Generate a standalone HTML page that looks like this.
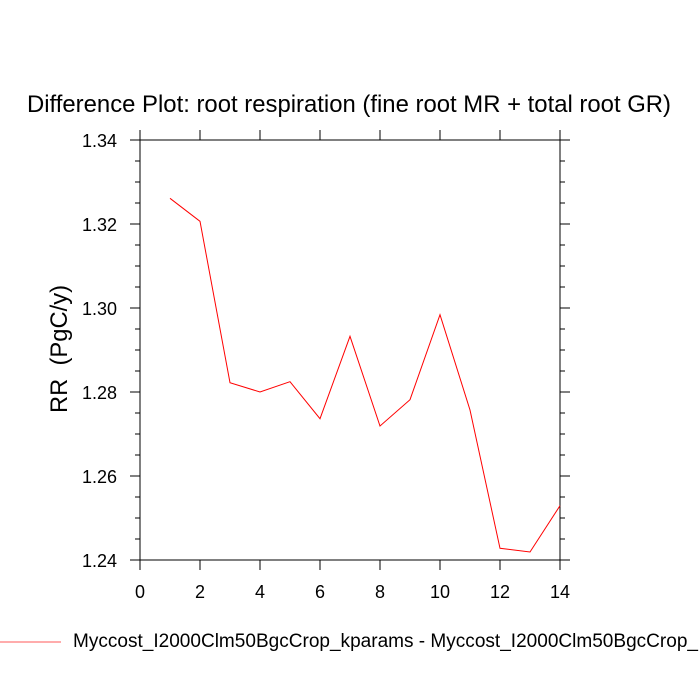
<!DOCTYPE html>
<html>
<head>
<meta charset="utf-8">
<style>
  html, body { margin: 0; padding: 0; background: #fff; }
  svg { display: block; }
  text { font-family: "Liberation Sans", "DejaVu Sans", sans-serif; fill: #000; }
</style>
</head>
<body>
<svg width="700" height="700" viewBox="0 0 700 700" xmlns="http://www.w3.org/2000/svg">
  <rect x="0" y="0" width="700" height="700" fill="#fff"/>

  <!-- Title -->
  <text x="349" y="112" font-size="24" text-anchor="middle" textLength="644" lengthAdjust="spacingAndGlyphs">Difference Plot: root respiration (fine root MR + total root GR)</text>

  <!-- Y axis label -->
  <text transform="translate(67,349) rotate(-90)" x="0" y="0" font-size="24" text-anchor="middle" textLength="128" lengthAdjust="spacingAndGlyphs">RR&#160;&#160;(PgC/y)</text>

  <!-- Frame -->
  <rect x="140" y="140" width="420" height="420" fill="none" stroke="#000" stroke-width="1"/>

  <g stroke="#000" stroke-width="1">
    <!-- X major ticks bottom and top -->
    <line x1="140" y1="560" x2="140" y2="570"/><line x1="140" y1="140" x2="140" y2="130"/>
    <line x1="200" y1="560" x2="200" y2="570"/><line x1="200" y1="140" x2="200" y2="130"/>
    <line x1="260" y1="560" x2="260" y2="570"/><line x1="260" y1="140" x2="260" y2="130"/>
    <line x1="320" y1="560" x2="320" y2="570"/><line x1="320" y1="140" x2="320" y2="130"/>
    <line x1="380" y1="560" x2="380" y2="570"/><line x1="380" y1="140" x2="380" y2="130"/>
    <line x1="440" y1="560" x2="440" y2="570"/><line x1="440" y1="140" x2="440" y2="130"/>
    <line x1="500" y1="560" x2="500" y2="570"/><line x1="500" y1="140" x2="500" y2="130"/>
    <line x1="560" y1="560" x2="560" y2="570"/><line x1="560" y1="140" x2="560" y2="130"/>

    <!-- Y major ticks left and right -->
    <line x1="130" y1="140" x2="140" y2="140"/><line x1="560" y1="140" x2="570" y2="140"/>
    <line x1="130" y1="224" x2="140" y2="224"/><line x1="560" y1="224" x2="570" y2="224"/>
    <line x1="130" y1="308" x2="140" y2="308"/><line x1="560" y1="308" x2="570" y2="308"/>
    <line x1="130" y1="392" x2="140" y2="392"/><line x1="560" y1="392" x2="570" y2="392"/>
    <line x1="130" y1="476" x2="140" y2="476"/><line x1="560" y1="476" x2="570" y2="476"/>
    <line x1="130" y1="560" x2="140" y2="560"/><line x1="560" y1="560" x2="570" y2="560"/>

    <!-- Y minor ticks -->
    <line x1="135" y1="161" x2="140" y2="161"/><line x1="560" y1="161" x2="565" y2="161"/>
    <line x1="135" y1="182" x2="140" y2="182"/><line x1="560" y1="182" x2="565" y2="182"/>
    <line x1="135" y1="203" x2="140" y2="203"/><line x1="560" y1="203" x2="565" y2="203"/>
    <line x1="135" y1="245" x2="140" y2="245"/><line x1="560" y1="245" x2="565" y2="245"/>
    <line x1="135" y1="266" x2="140" y2="266"/><line x1="560" y1="266" x2="565" y2="266"/>
    <line x1="135" y1="287" x2="140" y2="287"/><line x1="560" y1="287" x2="565" y2="287"/>
    <line x1="135" y1="329" x2="140" y2="329"/><line x1="560" y1="329" x2="565" y2="329"/>
    <line x1="135" y1="350" x2="140" y2="350"/><line x1="560" y1="350" x2="565" y2="350"/>
    <line x1="135" y1="371" x2="140" y2="371"/><line x1="560" y1="371" x2="565" y2="371"/>
    <line x1="135" y1="413" x2="140" y2="413"/><line x1="560" y1="413" x2="565" y2="413"/>
    <line x1="135" y1="434" x2="140" y2="434"/><line x1="560" y1="434" x2="565" y2="434"/>
    <line x1="135" y1="455" x2="140" y2="455"/><line x1="560" y1="455" x2="565" y2="455"/>
    <line x1="135" y1="497" x2="140" y2="497"/><line x1="560" y1="497" x2="565" y2="497"/>
    <line x1="135" y1="518" x2="140" y2="518"/><line x1="560" y1="518" x2="565" y2="518"/>
    <line x1="135" y1="539" x2="140" y2="539"/><line x1="560" y1="539" x2="565" y2="539"/>
  </g>

  <!-- Y tick labels -->
  <g font-size="18" text-anchor="end">
    <text x="117" y="147">1.34</text>
    <text x="117" y="231">1.32</text>
    <text x="117" y="315">1.30</text>
    <text x="117" y="399">1.28</text>
    <text x="117" y="483">1.26</text>
    <text x="117" y="567">1.24</text>
  </g>

  <!-- X tick labels -->
  <g font-size="18" text-anchor="middle">
    <text x="140" y="598">0</text>
    <text x="200" y="598">2</text>
    <text x="260" y="598">4</text>
    <text x="320" y="598">6</text>
    <text x="380" y="598">8</text>
    <text x="440" y="598">10</text>
    <text x="500" y="598">12</text>
    <text x="560" y="598">14</text>
  </g>

  <!-- Data series -->
  <polyline fill="none" stroke="#ff0000" stroke-width="1" stroke-linejoin="miter"
    points="170,198.3 200,221.3 230,382.7 260,392 290,381.7 320,418.7 350,336.3 380,426 410,399.7 440,314.7 470,410 500,548.3 530,552 560,505.7"/>

  <!-- Legend -->
  <line x1="0" y1="642" x2="61" y2="642" stroke="#ff0000" stroke-width="1" stroke-opacity="0.65"/>
  <text x="73" y="647" font-size="19" textLength="625" lengthAdjust="spacingAndGlyphs">Myccost_I2000Clm50BgcCrop_kparams - Myccost_I2000Clm50BgcCrop_</text>
</svg>
</body>
</html>
